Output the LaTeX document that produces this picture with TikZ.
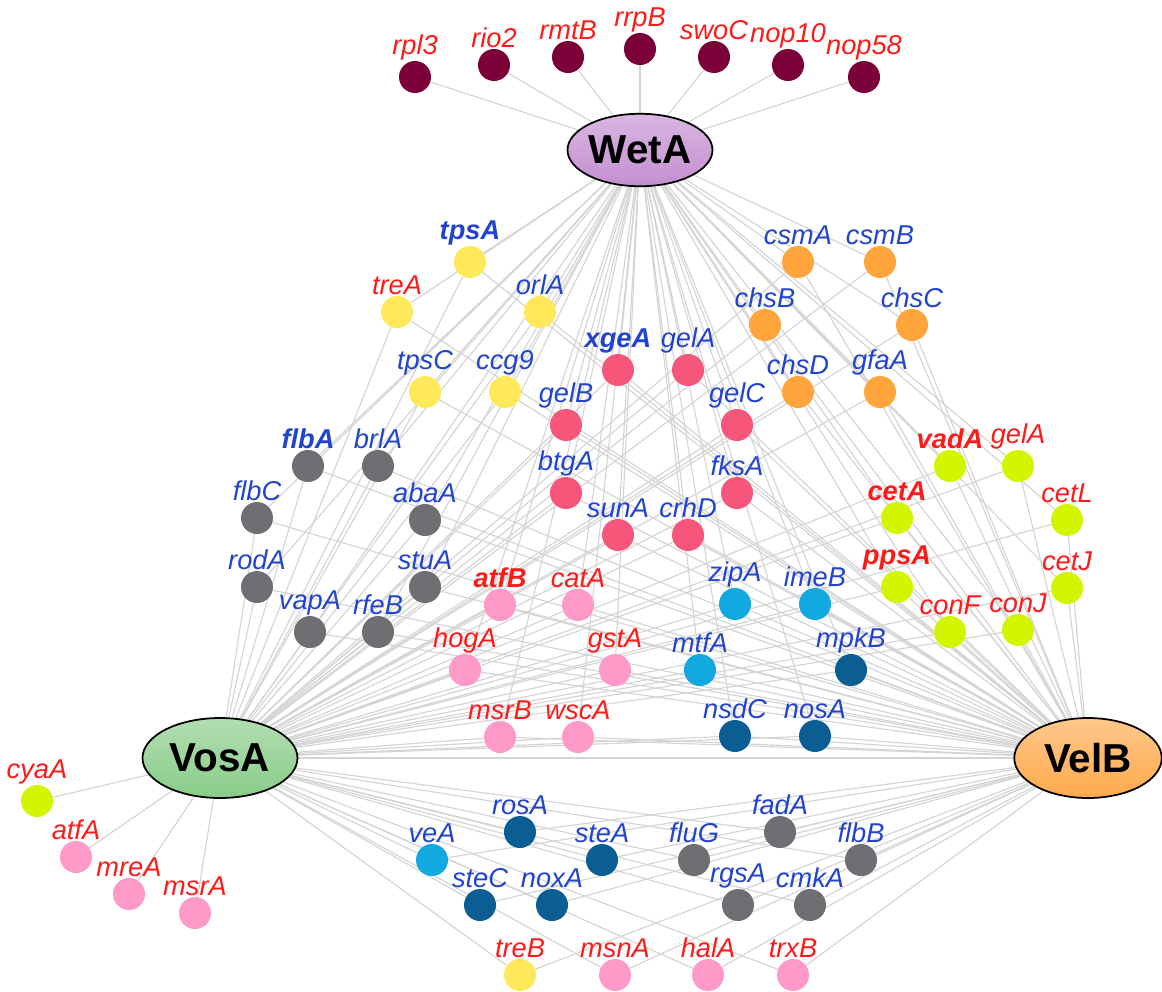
\documentclass[tikz,border=0pt]{standalone}
\usepackage{fontspec}
\setmainfont{Liberation Sans}
\usetikzlibrary{shapes.geometric,backgrounds}

\definecolor{maroon}{RGB}{123,0,55}
\definecolor{yel}{RGB}{255,232,90}
\definecolor{gry}{RGB}{110,110,115}
\definecolor{coral}{RGB}{245,86,122}
\definecolor{orng}{RGB}{255,165,60}
\definecolor{lime}{RGB}{212,245,0}
\definecolor{pnk}{RGB}{255,153,200}
\definecolor{ltblue}{RGB}{18,168,224}
\definecolor{dkblue}{RGB}{11,94,148}
\definecolor{lblblue}{RGB}{34,68,204}
\definecolor{lblred}{RGB}{255,26,26}
\definecolor{wetfill}{RGB}{196,143,208}
\definecolor{vosfill}{RGB}{136,204,136}
\definecolor{velfill}{RGB}{255,170,76}
\definecolor{edgegray}{RGB}{212,212,212}

\tikzset{
  gene/.style={circle, minimum size=0.64cm, inner sep=0pt, label distance=0pt},
  hub/.style={ellipse, draw=black, line width=1pt, inner sep=0pt,
    font=\bfseries\fontsize{23}{25}\selectfont},
  edge/.style={draw=edgegray, line width=0.65pt},
  bl/.style={text=lblblue, inner sep=0.3pt, font=\itshape\fontsize{15.5}{17}\selectfont},
  rd/.style={text=lblred, inner sep=0.3pt, font=\itshape\fontsize{15.5}{17}\selectfont},
  blb/.style={bl, font=\bfseries\itshape\fontsize{15.5}{17}\selectfont},
  rdb/.style={rd, font=\bfseries\itshape\fontsize{15.5}{17}\selectfont}
}

\begin{document}
\begin{tikzpicture}[x=0.02cm, y=-0.02cm]
    \useasboundingbox (0,0) rectangle (1162,991);

    % hubs
    \node [hub, minimum width=2.88cm, minimum height=1.45cm,
      top color=wetfill!65!white, bottom color=wetfill] (WetA) at (640,150) {WetA};
    \node [hub, minimum width=3.1cm, minimum height=1.6cm,
      top color=vosfill!65!white, bottom color=vosfill] (VosA) at (220,758) {VosA};
    \node [hub, minimum width=2.95cm, minimum height=1.6cm,
      top color=velfill!65!white, bottom color=velfill] (VelB) at (1088,758) {VelB};

    % WetA only
    \foreach \n/\x/\y in {rpl3/415/77, rio2/494/65, rmtB/568/57, rrpB/640/49,
        swoC/714/57, nop10/788/65, nop58/864/77}
      \node [gene, fill=maroon, label={[rd]above:\n}] (\n) at (\x,\y) {};

    % trehalose
    \foreach \n/\x/\y/\lb in {tpsA/470/262/blb, treA/397/312/rd, orlA/540/312/bl,
        tpsC/425/392/bl, ccg9/505/392/bl}
      \node [gene, fill=yel, label={[\lb]above:\n}] (\n) at (\x,\y) {};

    % development
    \foreach \n/\x/\y/\lb in {flbA/308/466/blb, brlA/378/466/bl, flbC/257/518/bl,
        abaA/425/520/bl, rodA/257/587/bl, stuA/425/587/bl, vapA/310/632/bl, rfeB/378/632/bl}
      \node [gene, fill=gry, label={[\lb]above:\n}] (\n) at (\x,\y) {};

    % cell wall
    \foreach \n/\x/\y/\lb in {xgeA/618/370/blb, gelA/688/370/bl, gelB/566/425/bl,
        gelC/737/425/bl, btgA/566/493/bl, fksA/737/493/bl, sunA/618/535/bl, crhD/688/535/bl}
      \node [gene, fill=coral, label={[\lb]above:\n}] (\n) at (\x,\y) {};

    % chitin
    \foreach \n/\x/\y in {csmA/798/262, csmB/880/262, chsB/765/325, chsC/912/325,
        chsD/798/392, gfaA/880/392}
      \node [gene, fill=orng, label={[bl]above:\n}] (\n) at (\x,\y) {};

    % conidia
    \foreach \n/\x/\y/\lb in {vadA/950/466/rdb, cetA/897/518/rdb, cetL/1067/520/rd,
        ppsA/897/587/rdb, cetJ/1067/588/rd, conF/950/632/rd, conJ/1018/630/rd}
      \node [gene, fill=lime, label={[\lb]above:\n}] (\n) at (\x,\y) {};
    \node [gene, fill=lime, label={[rd]above:gelA}] (gelAc) at (1018,466) {};

    % stress
    \foreach \n/\x/\y/\lb in {atfB/500/605/rdb, catA/578/605/rd, hogA/465/670/rd,
        gstA/615/670/rd, msrB/500/737/rd, wscA/578/737/rd}
      \node [gene, fill=pnk, label={[\lb]above:\n}] (\n) at (\x,\y) {};

    % signalling
    \foreach \n/\x/\y/\c in {zipA/735/604/ltblue, imeB/815/604/ltblue, mtfA/700/670/ltblue,
        mpkB/851/670/dkblue, nsdC/735/736/dkblue, nosA/815/736/dkblue}
      \node [gene, fill=\c, label={[bl]above:\n}] (\n) at (\x,\y) {};

    % VosA and VelB
    \foreach \n/\x/\y/\c in {rosA/520/832/dkblue, veA/432/860/ltblue, steA/602/860/dkblue,
        steC/480/905/dkblue, noxA/552/905/dkblue, fluG/694/860/gry, fadA/780/832/gry,
        flbB/861/860/gry, rgsA/738/905/gry, cmkA/810/905/gry}
      \node [gene, fill=\c, label={[bl]above:\n}] (\n) at (\x,\y) {};
    \foreach \n/\x/\y/\c in {treB/520/975/yel, msnA/615/975/pnk, halA/708/975/pnk,
        trxB/793/975/pnk}
      \node [gene, fill=\c, label={[rd]above:\n}] (\n) at (\x,\y) {};

    % VosA only
    \foreach \n/\x/\y/\c in {cyaA/37/801/lime, atfA/76/857/pnk, mreA/129/894/pnk,
        msrA/195/913/pnk}
      \node [gene, fill=\c, label={[rd]above:\n}] (\n) at (\x,\y) {};

    \begin{pgfonlayer}{background}
      \foreach \g in {rpl3,rio2,rmtB,rrpB,swoC,nop10,nop58}
        \draw [edge] (\g) -- (WetA);
      \foreach \g in {tpsA,treA,orlA,tpsC,ccg9,flbA,brlA,flbC,abaA,rodA,stuA,vapA,rfeB,
          xgeA,gelA,gelB,gelC,btgA,fksA,sunA,crhD,csmA,csmB,chsB,chsC,chsD,gfaA,
          vadA,gelAc,cetA,cetL,ppsA,cetJ,conF,conJ,atfB,catA,hogA,gstA,msrB,wscA,
          zipA,imeB,mtfA,mpkB,nsdC,nosA} {
        \draw [edge] (\g) -- (WetA);
        \draw [edge] (\g) -- (VosA);
        \draw [edge] (\g) -- (VelB);
      }
      \foreach \g in {rosA,veA,steA,steC,noxA,fluG,fadA,flbB,rgsA,cmkA,treB,msnA,halA,trxB} {
        \draw [edge] (\g) -- (VosA);
        \draw [edge] (\g) -- (VelB);
      }
      \foreach \g in {cyaA,atfA,mreA,msrA}
        \draw [edge] (\g) -- (VosA);
      \draw [edge] (VosA) -- (VelB);
    \end{pgfonlayer}
\end{tikzpicture}
\end{document}
